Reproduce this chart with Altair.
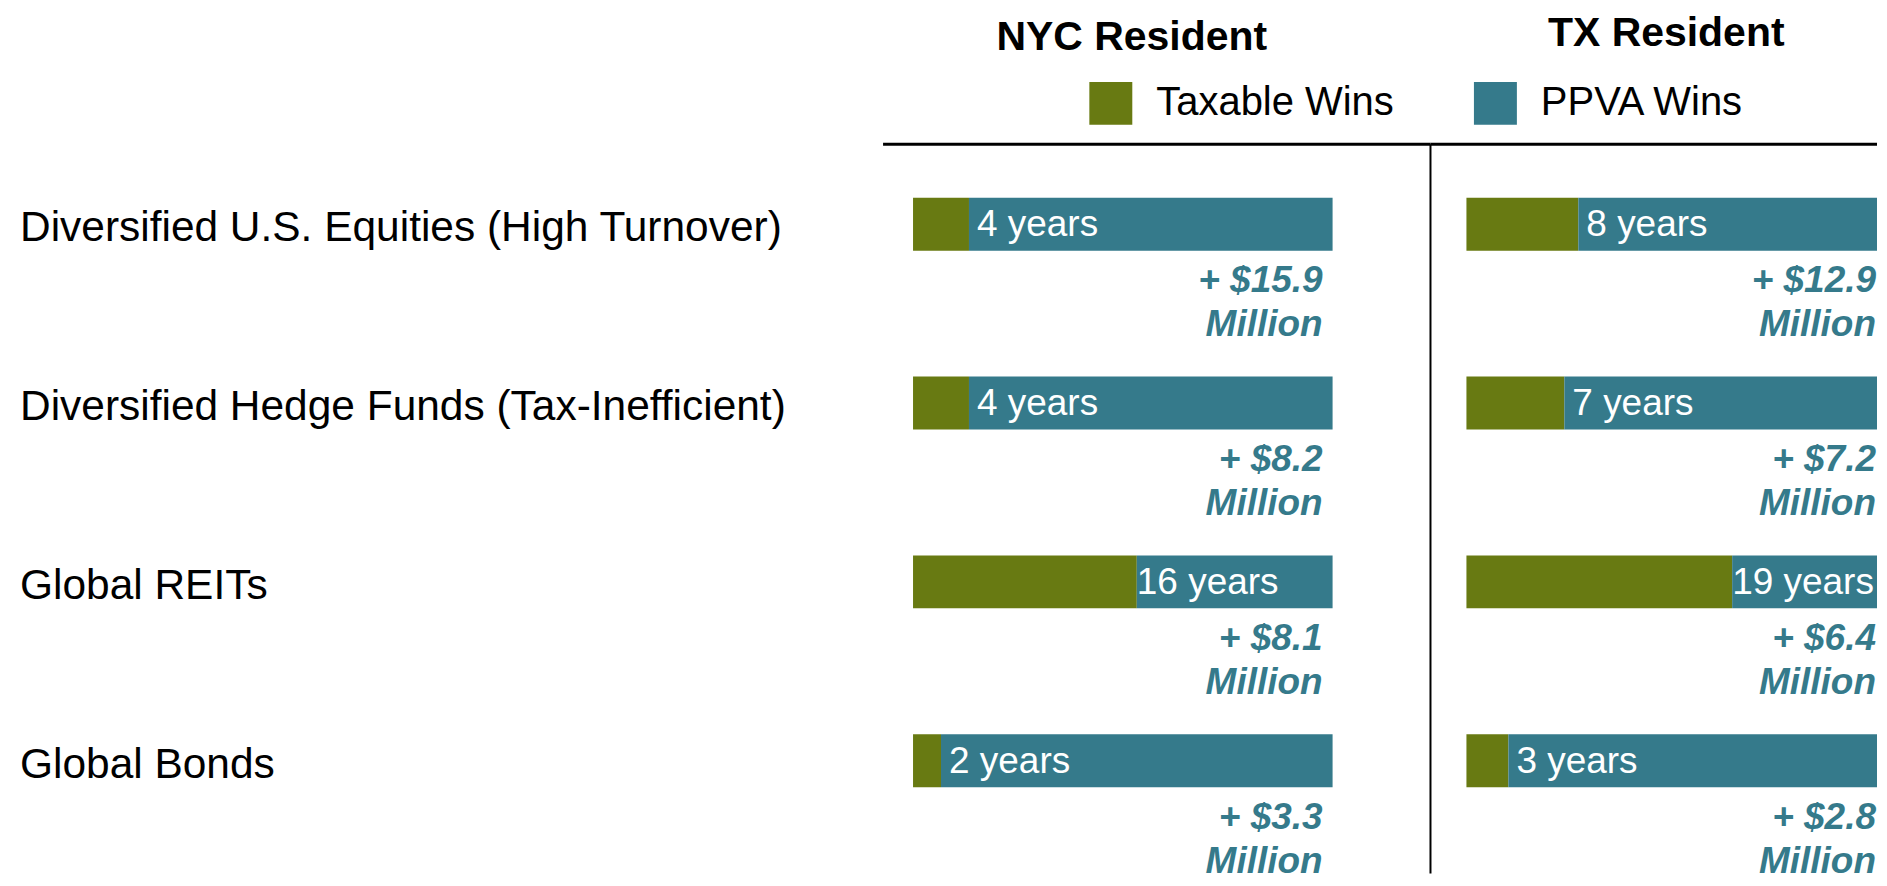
import altair as alt
import pandas as pd

# ---------------- data ----------------
categories = [
    "Diversified U.S. Equities (High Turnover)",
    "Diversified Hedge Funds (Tax-Inefficient)",
    "Global REITs",
    "Global Bonds",
]
residents = ["NYC Resident", "TX Resident"]
legend_labels = ["Taxable Wins", "PPVA Wins"]
horizon_years = 30
nyc_taxable_years = [4, 4, 16, 2]
tx_taxable_years = [8, 7, 19, 3]
nyc_ppva_gain_musd = [15.9, 8.2, 8.1, 3.3]
tx_ppva_gain_musd = [12.9, 7.2, 6.4, 2.8]

# ---------------- style ----------------
GREEN = "#687a12"
TEAL = "#357a8b"
FONT = "Liberation Sans"
H = 866

seg_rows, ann_rows = [], []
for res, yrs, gains in [
    (residents[0], nyc_taxable_years, nyc_ppva_gain_musd),
    (residents[1], tx_taxable_years, tx_ppva_gain_musd),
]:
    for cat, y, g in zip(categories, yrs, gains):
        seg_rows.append(dict(resident=res, category=cat, winner=legend_labels[0], start=0, end=y))
        seg_rows.append(dict(resident=res, category=cat, winner=legend_labels[1], start=y, end=horizon_years))
        ann_rows.append(dict(resident=res, category=cat, years=y, horizon=horizon_years,
                             crossover=f"{y} years", gain_text=f"+ ${g:.1f}"))
seg_df = pd.DataFrame(seg_rows)
ann_df = pd.DataFrame(ann_rows)
res_df = pd.DataFrame({"resident": residents})
cat_df = pd.DataFrame({"category": categories})

Y = alt.Y("category:N", sort=categories,
          scale=alt.Scale(domain=categories, range=[126.5, 842.5], paddingInner=0, paddingOuter=0),
          axis=None)

LEGEND = alt.Legend(orient="none", legendX=1082.5, legendY=73.5, direction="horizontal",
                    title=None, symbolType="square", symbolSize=1849, symbolStrokeWidth=0,
                    symbolOpacity=1, labelFontSize=40, labelFont=FONT, labelColor="black",
                    labelOffset=24, columnPadding=80, padding=0, labelLimit=500)
COLOR = alt.Color("winner:N", scale=alt.Scale(domain=legend_labels, range=[GREEN, TEAL]), legend=LEGEND)


def panel(res, width, xdomain, title_x, title_y, vrule):
    xs = alt.Scale(domain=xdomain, nice=False, zero=False)
    seg = alt.Chart(seg_df).transform_filter(alt.datum.resident == res)
    ann = alt.Chart(ann_df).transform_filter(alt.datum.resident == res)
    bars = seg.mark_bar(height=53, clip=True).encode(
        x=alt.X("start:Q", scale=xs, axis=None), x2="end:Q", y=Y, color=COLOR)
    inside_short = ann.transform_filter(alt.datum.years < 15).mark_text(
        align="left", baseline="middle", dx=8, dy=1, fontSize=37, font=FONT, color="white"
    ).encode(x=alt.X("years:Q", scale=xs, axis=None), y=Y, text="crossover:N")
    inside_long = ann.transform_filter(alt.datum.years >= 15).mark_text(
        align="left", baseline="middle", dx=0, dy=1, fontSize=37, font=FONT, color="white"
    ).encode(x=alt.X("years:Q", scale=xs, axis=None), y=Y, text="crossover:N")
    gain = ann.mark_text(
        align="right", baseline="alphabetic", dx=-10, dy=68, fontSize=37, font=FONT,
        fontStyle="italic", fontWeight="bold", color=TEAL
    ).encode(x=alt.X("horizon:Q", scale=xs, axis=None), y=Y, text="gain_text:N")
    million = ann.mark_text(
        align="right", baseline="alphabetic", dx=-10, dy=112, fontSize=37, font=FONT,
        fontStyle="italic", fontWeight="bold", color=TEAL, text="Million"
    ).encode(x=alt.X("horizon:Q", scale=xs, axis=None), y=Y)
    rd = alt.Chart(res_df).transform_filter(alt.datum.resident == res)
    title = rd.mark_text(align="center", baseline="alphabetic", fontSize=41, fontWeight="bold",
                         font=FONT, color="black").encode(
        x=alt.value(title_x), y=alt.value(title_y), text="resident:N")
    hrule = rd.mark_rule(strokeWidth=3, color="black").encode(y=alt.value(136))
    layers = [bars, inside_short, inside_long, gain, million, title, hrule]
    if vrule:
        layers.append(rd.mark_rule(strokeWidth=2, color="black").encode(
            x=alt.value(0), y=alt.value(136), y2=alt.value(H)))
    return alt.layer(*layers).properties(width=width, height=H)


labels_view = alt.Chart(cat_df).mark_text(
    align="left", baseline="alphabetic", dy=17, fontSize=42.5, font=FONT, color="black"
).encode(x=alt.value(12), y=Y, text="category:N").properties(width=876, height=H)

nyc_view = panel(residents[0], 548, [-30 / 14, 518 / 14], 249, 42, False)
tx_view = panel(residents[1], 447, [-36 / 14, 411 / 14], 236, 38, True)

chart = alt.hconcat(labels_view, nyc_view, tx_view, spacing=0, bounds="flush").properties(
    padding=0
).configure(font=FONT).configure_view(strokeWidth=0, stroke="transparent")

chart.save("out.html", embed_options={"renderer": "svg", "actions": False})
